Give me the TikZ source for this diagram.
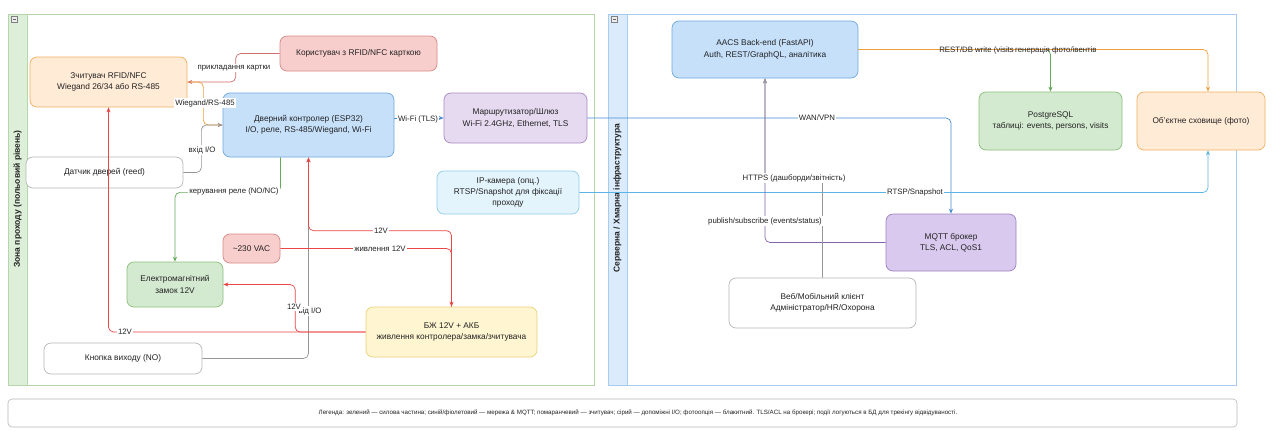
\documentclass[tikz,border=0pt]{standalone}
\usepackage{fontspec}
\setmainfont{Liberation Sans}
\usetikzlibrary{arrows.meta}

% fills and strokes of the boxes
\definecolor{orfill}{HTML}{FFEBD6}\definecolor{ordraw}{HTML}{F0B060}
\definecolor{rdfill}{HTML}{F8CECC}\definecolor{rddraw}{HTML}{D88A88}
\definecolor{blfill}{HTML}{C6E0FA}\definecolor{bldraw}{HTML}{6FA8DC}
\definecolor{prfill}{HTML}{E6DAF0}\definecolor{prdraw}{HTML}{A889C4}
\definecolor{mqfill}{HTML}{D9C9EE}\definecolor{mqdraw}{HTML}{9E80C0}
\definecolor{cmfill}{HTML}{E4F4FC}\definecolor{cmdraw}{HTML}{90CDEE}
\definecolor{gnfill}{HTML}{D3EAD0}\definecolor{gndraw}{HTML}{8DBF7A}
\definecolor{ylfill}{HTML}{FFF5D1}\definecolor{yldraw}{HTML}{EBD27A}
\definecolor{wtdraw}{HTML}{B8B8B8}
% swimlanes
\definecolor{lanegn}{HTML}{B5D6AA}\definecolor{lanegnfill}{HTML}{DDEFD9}
\definecolor{lanebl}{HTML}{A6CCF0}\definecolor{laneblfill}{HTML}{DCEBFB}
% connector colours
\definecolor{cor}{RGB}{240,160,60}
\definecolor{crd}{RGB}{235,70,70}
\definecolor{cus}{RGB}{205,110,110}
\definecolor{cgy}{RGB}{150,150,150}
\definecolor{cgn}{RGB}{100,170,90}
\definecolor{cbl}{RGB}{70,140,210}
\definecolor{ccy}{RGB}{90,180,230}
\definecolor{cpr}{RGB}{130,100,170}
\definecolor{txt}{HTML}{222222}

\begin{document}
\begin{tikzpicture}[x=1pt,y=-1pt,
  box/.style={draw, rounded corners=7pt, align=center, inner sep=2pt,
    line width=0.7pt, text=txt, font=\fontsize{8.3}{11.5}\selectfont},
  orbox/.style={box, fill=orfill, draw=ordraw},
  rdbox/.style={box, fill=rdfill, draw=rddraw},
  blbox/.style={box, fill=blfill, draw=bldraw},
  prbox/.style={box, fill=prfill, draw=prdraw},
  mqbox/.style={box, fill=mqfill, draw=mqdraw},
  cmbox/.style={box, fill=cmfill, draw=cmdraw},
  gnbox/.style={box, fill=gnfill, draw=gndraw},
  ylbox/.style={box, fill=ylfill, draw=yldraw},
  wtbox/.style={box, fill=white, draw=wtdraw},
  link/.style={line width=0.7pt, rounded corners=5pt,
    -{Stealth[length=5pt,width=4pt]}},
  lbl/.style={fill=white, inner sep=1pt, text=txt, font=\fontsize{7.8}{9}\selectfont},
  bare/.style={inner sep=1pt, text=txt, font=\fontsize{7.8}{9}\selectfont},
  title/.style={rotate=90, text=txt, font=\bfseries\fontsize{8.5}{10}\selectfont},
]
\fill[white] (0,0) rectangle (1272,431);
\useasboundingbox (0,0) rectangle (1272,431);

% ---- swimlane: field level
\draw[lanegn, line width=0.7pt, fill=white] (8,14) rectangle (594,385);
\draw[lanegn, line width=0.7pt, fill=lanegnfill] (8,14) rectangle (27,385);
\node[title] (lanel) at (17.5,199) {Зона проходу (польовий рівень)};
\draw[gray, fill=gray!15, line width=0.4pt] (11,16.5) rectangle (17,22.5);
\draw[gray!80!black, line width=0.5pt] (12.5,19.5) -- (15.5,19.5);

% ---- swimlane: server / cloud
\draw[lanebl, line width=0.7pt, fill=white] (608,14) rectangle (1236,385);
\draw[lanebl, line width=0.7pt, fill=laneblfill] (608,14) rectangle (627,385);
\node[title] (laner) at (617.5,198) {Серверна / Хмарна інфраструктура};
\draw[gray, fill=gray!15, line width=0.4pt] (611,16.5) rectangle (617,22.5);
\draw[gray!80!black, line width=0.5pt] (612.5,19.5) -- (615.5,19.5);

% ---- field devices
\node[orbox, minimum width=157pt, minimum height=50pt] (reader) at (108.5,82)
  {Зчитувач RFID/NFC\\Wiegand 26/34 або RS-485};
\node[rdbox, minimum width=157pt, minimum height=35pt] (user) at (358.5,53.5)
  {Користувач з RFID/NFC карткою};
\node[blbox, minimum width=171pt, minimum height=64pt] (ctrl) at (308.5,125)
  {Дверний контролер (ESP32)\\I/O, реле, RS-485/Wiegand, Wi-Fi};
\node[wtbox, minimum width=157pt, minimum height=31pt] (sensor) at (104.5,172.5)
  {Датчик дверей (reed)};
\node[prbox, minimum width=143pt, minimum height=50pt] (router) at (515.5,118)
  {Маршрутизатор/Шлюз\\Wi-Fi 2.4GHz, Ethernet, TLS};
\node[cmbox, minimum width=142pt, minimum height=43pt, font=\fontsize{8.3}{10.8}\selectfont] (camera) at (508,192.5)
  {IP-камера (опц.)\\RTSP/Snapshot для фіксації\\проходу};
\node[rdbox, minimum width=57pt, minimum height=29pt] (vac) at (251.5,248.5)
  {\textasciitilde230 VAC};
\node[gnbox, minimum width=96pt, minimum height=45pt] (lock) at (175,284.5)
  {Електромагнітний\\замок 12V};
\node[ylbox, minimum width=171pt, minimum height=50pt] (psu) at (451.5,332)
  {БЖ 12V + АКБ\\живлення контролера/замка/зчитувача};
\node[wtbox, minimum width=158pt, minimum height=31pt] (button) at (123,358.5)
  {Кнопка виходу (NO)};

% ---- server side
\node[blbox, minimum width=186pt, minimum height=57pt] (backend) at (765,49.5)
  {AACS Back-end (FastAPI)\\Auth, REST/GraphQL, аналітика};
\node[gnbox, minimum width=143pt, minimum height=58pt] (pg) at (1050.5,121)
  {PostgreSQL\\таблиці: events, persons, visits};
\node[mqbox, minimum width=130pt, minimum height=57pt] (mqtt) at (951,242.5)
  {MQTT брокер\\TLS, ACL, QoS1};
\node[wtbox, minimum width=187pt, minimum height=50pt] (client) at (822.5,303)
  {Веб/Мобільний клієнт\\Адміністратор/HR/Охорона};
% storage box sits over the lane border
\node[orbox, minimum width=128pt, minimum height=58pt] (store) at (1201,121)
  {Об'єктне сховище (фото)};

% ---- connectors
\draw[link, cus] (user.west) -- ++(-44,0) |- (reader.east);
\draw[link, cor] (reader.east) -- ++(16,0) |- (ctrl.west);
\draw[link, cgy] (sensor.east) -- ++(18,0) |- (ctrl.west);
\draw[link, cgn] ([xshift=-28pt]ctrl.south) -- ++(0,35) -| (lock.north);
\draw[link, cgy] (button.east) -| (ctrl.south);
\draw[link, crd] (psu.north) -- ++(0,-76) -| (ctrl.south);
\draw[link, crd] (vac.east) -| (psu.north);
\draw[link, crd] (psu.west) -- ++(-70.5,0) |- (lock.east);
\draw[link, crd] (psu.west) -| (reader.south);
\draw[link, cbl] (ctrl.east |- router.west) -- (router.west);
\draw[link, cbl] (router.east) -| (mqtt.north);
\draw[link, ccy] (camera.east) -| ([xshift=7pt]store.south);
\draw[link, cpr] (mqtt.west) -| (backend.south);
\draw[link, cgy] (client.north) -- ++(0,-100) -| (backend.south);
\draw[link, cgn] (backend.east) -| (pg.north);
\draw[link, cor] (backend.east) -| ([xshift=7pt]store.north);

% ---- connector labels
\node[lbl] (l1) at (234,68) {прикладання картки};
\node[lbl] (l2) at (205,103) {Wiegand/RS-485};
\node[lbl] (l3) at (202,150) {вхід I/O};
\node[lbl] (l4) at (234,191) {керування реле (NO/NC)};
\node[lbl] (l5) at (381,231) {12V};
\node[lbl] (l6) at (380,248.5) {живлення 12V};
\node[lbl] (l7) at (310,311) {від I/O};
\node[lbl] (l8) at (294,307) {12V};
\node[lbl] (l9) at (125,332) {12V};
\node[lbl] (l10) at (418,119) {Wi-Fi (TLS)};
\node[lbl] (l11) at (817,118) {WAN/VPN};
\node[lbl] (l12) at (915,192) {RTSP/Snapshot};
\node[lbl] (l13) at (765,221) {publish/subscribe (events/status)};
\node[lbl] (l14) at (794,178) {HTTPS (дашборди/звітність)};
\node[bare, anchor=east] (l15) at (1015,50) {REST/DB write (visits};
\node[bare, anchor=west, inner sep=0pt] (l16) at (l15.east) {генерація фото/івентів};

% ---- legend
\draw[wtdraw, line width=0.6pt, fill=white, rounded corners=4pt] (8,399) rectangle (1237,427);
\node[bare, font=\fontsize{6.2}{7.5}\selectfont] (legend) at (638,413)
  {Легенда: зелений — силова частина; синій/фіолетовий — мережа \& MQTT; помаранчевий — зчитувач; сірий — допоміжні I/O; фотоопція — блакитний. TLS/ACL на брокері; події логуються в БД для трекінгу відвідуваності.};
\end{tikzpicture}
\end{document}
